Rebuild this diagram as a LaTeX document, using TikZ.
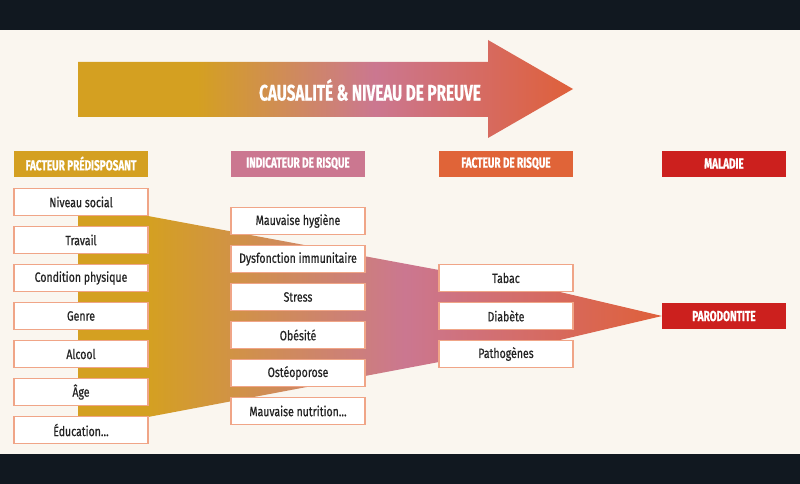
\documentclass[tikz,border=0pt]{standalone}
\usepackage{fontspec}
\setmainfont{Fira Sans}
\newfontfamily\boxfont[FakeStretch=0.78,FakeBold=0.6]{Fira Sans}
\newfontfamily\headfont[FakeStretch=0.69,FakeBold=0.8]{Fira Sans}
\newfontfamily\titlefont[FakeStretch=0.68,FakeBold=0.6]{Fira Sans}
\definecolor{cgold}{RGB}{212,160,33}
\definecolor{cpink}{RGB}{203,119,144}
\definecolor{corange}{RGB}{223,96,58}
\definecolor{chead}{RGB}{224,100,56}
\definecolor{cred}{RGB}{204,32,30}
\definecolor{cream}{RGB}{250,246,239}
\definecolor{cdark}{RGB}{17,24,32}
\definecolor{cborder}{RGB}{240,165,135}
\definecolor{ctext}{RGB}{35,35,35}
\pgfdeclarehorizontalshading{arrowshade}{100bp}{color(0bp)=(cgold); color(37bp)=(cgold); color(55bp)=(cpink); color(75bp)=(corange); color(100bp)=(corange)}
\pgfdeclarehorizontalshading{funnelshade}{100bp}{color(0bp)=(cgold); color(31bp)=(cgold); color(53bp)=(cpink); color(75bp)=(corange); color(100bp)=(corange)}
\tikzset{
  itembox/.style={draw=cborder, line width=1.2pt, fill=white, minimum width=134pt, minimum height=27pt, inner sep=0pt, font=\boxfont\fontsize{13.5}{13.5}\selectfont, text=ctext},
  headbox/.style={minimum width=134pt, minimum height=26pt, inner sep=0pt, font=\headfont\bfseries\fontsize{14.5}{14.5}\selectfont, text=white},
}
\begin{document}
\begin{tikzpicture}[x=1pt,y=-1pt]
\useasboundingbox (0,0) rectangle (800,484);
\fill[cream] (0,0) rectangle (800,484);
\fill[cdark] (0,0) rectangle (800,30);
\fill[cdark] (0,454) rectangle (800,484);
% arrow
\shade[shading=arrowshade] (78,62) -- (488,62) -- (488,40) -- (573,89) -- (488,138) -- (488,117) -- (78,117) -- cycle;
\node[text=white, font=\titlefont\bfseries\fontsize{22.5}{22.5}\selectfont] (title) at (370,90) {CAUSALITÉ \& NIVEAU DE PREUVE};
% funnel
\shade[shading=funnelshade] (78,216) -- (148,216) -- (439,270) -- (560,292) -- (662,316) -- (560,340) -- (439,362) -- (148,417) -- (78,417) -- cycle;
% headers
\node[headbox, fill=cgold] (h1) at (81,163.5) {FACTEUR PRÉDISPOSANT};
\node[headbox, fill=cpink] (h2) at (298,163.5) {INDICATEUR DE RISQUE};
\node[headbox, fill=chead] (h3) at (506,163.5) {FACTEUR DE RISQUE};
\node[headbox, fill=cred, minimum width=124pt] (h4) at (724,163.5) {MALADIE};
% column 1
\node[itembox] (a1) at (81,202) {Niveau social};
\node[itembox] (a2) at (81,240) {Travail};
\node[itembox] (a3) at (81,278) {Condition physique};
\node[itembox] (a4) at (81,316) {Genre};
\node[itembox] (a5) at (81,354) {Alcool};
\node[itembox] (a6) at (81,392) {Âge};
\node[itembox] (a7) at (81,430) {Éducation…};
% column 2
\node[itembox] (b1) at (298,221) {Mauvaise hygiène};
\node[itembox] (b2) at (298,259) {Dysfonction immunitaire};
\node[itembox] (b3) at (298,297) {Stress};
\node[itembox] (b4) at (298,335) {Obésité};
\node[itembox] (b5) at (298,373) {Ostéoporose};
\node[itembox] (b6) at (298,411) {Mauvaise nutrition…};
% column 3
\node[itembox] (c1) at (506,278) {Tabac};
\node[itembox] (c2) at (506,316) {Diabète};
\node[itembox] (c3) at (506,354) {Pathogènes};
% disease
\node[headbox, fill=cred, minimum width=124pt] (d1) at (724,316) {PARODONTITE};
\end{tikzpicture}
\end{document}
